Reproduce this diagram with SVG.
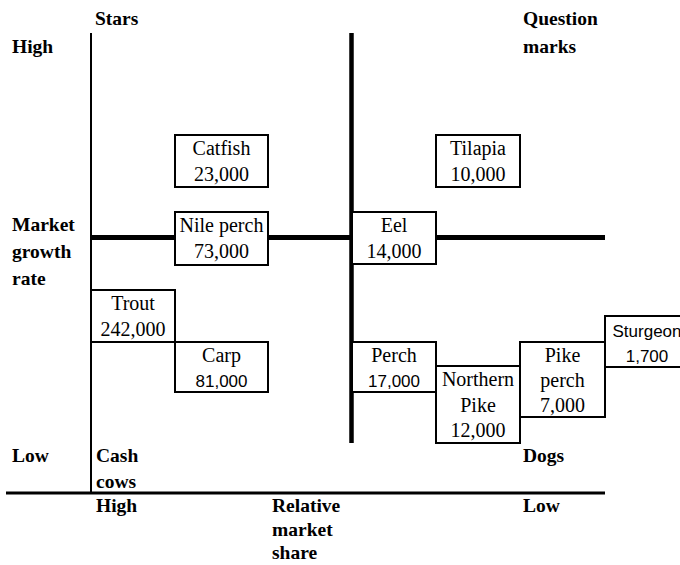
<svg xmlns="http://www.w3.org/2000/svg" width="680" height="565" viewBox="0 0 680 565">
<style>
.lbl{font-family:"Liberation Serif","Times New Roman",serif;font-weight:bold;font-size:19.5px;fill:#000}
.box{fill:#fff;stroke:#000;stroke-width:2}
.t{font-family:"Liberation Serif","Times New Roman",serif;font-size:20px;fill:#000;text-anchor:middle}
.s{font-family:"Liberation Sans",Arial,sans-serif;font-size:17px;fill:#000;text-anchor:middle}
.ax{stroke:#000;fill:none}
</style>
<rect width="680" height="565" fill="#fff"/>
<g id="connectors">
<line class="ax" x1="91" y1="33" x2="91" y2="493" stroke-width="2"/>
<line class="ax" x1="6" y1="493" x2="605" y2="493" stroke-width="3"/>
<line class="ax" x1="91" y1="237.5" x2="605" y2="237.5" stroke-width="5"/>
<line class="ax" x1="351.5" y1="33" x2="351.5" y2="443" stroke-width="4.5"/>
</g>
<g id="labels">
<text class="lbl" x="95" y="25">Stars</text>
<text class="lbl" x="12" y="53">High</text>
<text class="lbl" x="523" y="25">Question</text>
<text class="lbl" x="523" y="53">marks</text>
<text class="lbl" x="12" y="231">Market</text>
<text class="lbl" x="12" y="258">growth</text>
<text class="lbl" x="12" y="285">rate</text>
<text class="lbl" x="12" y="462">Low</text>
<text class="lbl" x="96" y="462">Cash</text>
<text class="lbl" x="96" y="488">cows</text>
<text class="lbl" x="523" y="462">Dogs</text>
<text class="lbl" x="96" y="512">High</text>
<text class="lbl" x="272" y="512">Relative</text>
<text class="lbl" x="272" y="536">market</text>
<text class="lbl" x="272" y="559">share</text>
<text class="lbl" x="523" y="512">Low</text>
</g>
<g id="catfish"><rect class="box" x="175" y="135" width="93" height="52"/><text class="t" x="221.5" y="155">Catfish</text><text class="t" x="221.5" y="181">23,000</text></g>
<g id="tilapia"><rect class="box" x="436" y="135" width="84" height="52"/><text class="t" x="478" y="155">Tilapia</text><text class="t" x="478" y="181">10,000</text></g>
<g id="nile-perch"><rect class="box" x="175" y="212" width="93" height="53"/><text class="t" x="221.5" y="232">Nile perch</text><text class="t" x="221.5" y="258">73,000</text></g>
<g id="eel"><rect class="box" x="352" y="212" width="84" height="52"/><text class="t" x="394" y="232">Eel</text><text class="t" x="394" y="258">14,000</text></g>
<g id="trout"><rect class="box" x="91" y="290" width="84" height="52"/><text class="t" x="133" y="310">Trout</text><text class="t" x="133" y="336">242,000</text></g>
<g id="carp"><rect class="box" x="175" y="342" width="93" height="50"/><text class="t" x="221.5" y="362">Carp</text><text class="s" x="221.5" y="387">81,000</text></g>
<g id="perch"><rect class="box" x="352" y="342" width="84" height="50"/><text class="t" x="394" y="362">Perch</text><text class="s" x="394" y="387">17,000</text></g>
<g id="northern-pike"><rect class="box" x="436" y="366" width="84" height="77"/><text class="t" x="478" y="386">Northern</text><text class="t" x="478" y="412">Pike</text><text class="t" x="478" y="437">12,000</text></g>
<g id="pike-perch"><rect class="box" x="520" y="342" width="85" height="75"/><text class="t" x="562.5" y="362">Pike</text><text class="t" x="562.5" y="387">perch</text><text class="t" x="562.5" y="412">7,000</text></g>
<g id="sturgeon"><rect class="box" x="605" y="316" width="85" height="51"/><text class="s" x="647" y="337">Sturgeon</text><text class="s" x="647" y="362">1,700</text></g>
</svg>
